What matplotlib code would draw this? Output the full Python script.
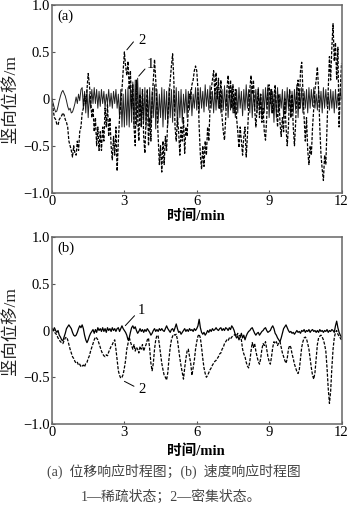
import numpy as np
import matplotlib
matplotlib.use("Agg")
import matplotlib.pyplot as plt

plt.rcParams['font.family'] = ['Liberation Serif', 'Noto Sans CJK SC']
plt.rcParams['axes.unicode_minus'] = True

# time axis, min (0.05 min sampling)
time_min = np.linspace(0, 12, 241)

# (a) displacement, 1 = sparse state, 2 = dense state
disp_a1 = [
    0.0, -0.05, -0.1, -0.14, -0.13, -0.08, -0.02, 0.03, 0.07, 0.09, 0.06, 0.03, -0.02, -0.08, -0.12, -0.1, -0.15, -0.14, -0.1, -0.05,
    0.02, -0.05, 0.05, -0.02, 0.1, 0.12, -0.1, 0.08, -0.15, 0.1, -0.2, 0.05, -0.1, 0.1, -0.05, 0.12, -0.05, 0.1, -0.1, 0.08,
    -0.08, 0.1, -0.05, 0.08, -0.1, 0.05, -0.05, 0.1, -0.08, 0.06, -0.1, 0.08, -0.05, 0.1, -0.1, 0.05, -0.2, 0.1, -0.3, 0.05,
    -0.3, 0.1, -0.28, 0.12, -0.3, 0.15, -0.25, 0.18, -0.3, 0.2, -0.28, 0.22, -0.2, 0.12, -0.3, 0.1, -0.25, 0.12, -0.3, 0.1,
    -0.25, 0.12, -0.3, 0.08, -0.2, 0.15, -0.32, 0.1, -0.25, 0.05, -0.2, 0.12, -0.3, 0.1, -0.22, 0.08, -0.28, 0.12, -0.2, 0.1,
    -0.25, 0.1, -0.15, 0.12, -0.3, 0.08, -0.2, 0.1, -0.25, 0.05, -0.15, 0.1, -0.2, 0.08, -0.12, 0.1, -0.18, 0.05, -0.1, 0.12,
    -0.12, 0.1, -0.15, 0.12, -0.1, 0.08, -0.14, 0.15, -0.08, 0.1, -0.12, 0.14, -0.1, 0.08, -0.15, 0.1, -0.12, 0.12, -0.1, 0.08,
    -0.15, 0.1, -0.12, 0.14, -0.1, 0.08, -0.2, 0.1, -0.12, 0.12, -0.15, 0.05, -0.2, 0.1, -0.15, 0.12, -0.1, 0.08, -0.18, 0.1,
    -0.12, 0.15, -0.1, 0.1, -0.15, 0.12, -0.2, 0.08, -0.12, 0.1, -0.15, 0.12, -0.1, 0.05, -0.2, 0.1, -0.15, 0.12, -0.1, 0.15,
    -0.2, 0.1, -0.15, 0.08, -0.25, 0.1, -0.2, 0.12, -0.15, 0.05, -0.1, 0.1, -0.2, 0.08, -0.15, 0.12, -0.1, 0.1, -0.2, 0.08,
    -0.15, 0.1, -0.12, 0.15, -0.2, 0.1, -0.1, 0.12, -0.15, 0.08, -0.1, 0.1, -0.15, 0.12, -0.1, 0.1, -0.08, 0.12, -0.1, 0.05,
    -0.12, 0.1, -0.1, 0.08, -0.15, 0.12, -0.1, 0.1, -0.08, 0.05, -0.12, 0.1, -0.1, 0.08, -0.15, 0.1, -0.1, 0.05, -0.05, 0.08,
    0.0,
]
disp_a2 = [
    0.0, -0.12, -0.2, -0.22, -0.27, -0.28, -0.22, -0.2, -0.18, -0.15, -0.17, -0.22, -0.25, -0.3, -0.45, -0.5, -0.55, -0.62, -0.5, -0.58,
    -0.6, -0.45, -0.55, -0.35, -0.3, -0.15, -0.1, 0.05, -0.05, 0.1, 0.27, 0.15, 0.0, -0.2, -0.1, -0.35, -0.2, -0.5, -0.3, -0.55,
    -0.35, -0.55, -0.3, -0.45, -0.1, -0.3, -0.05, -0.4, -0.2, -0.5, -0.65, -0.4, -0.6, -0.3, -0.77, -0.45, -0.2, -0.05, 0.1, 0.3,
    0.5, 0.35, 0.25, 0.4, 0.1, 0.3, -0.1, 0.15, -0.3, -0.5, 0.2, -0.2, -0.45, 0.05, -0.3, 0.1, -0.4, -0.58, -0.2, 0.1,
    -0.5, -0.2, -0.45, 0.0, 0.2, 0.42, 0.2, -0.1, -0.4, -0.7, -0.5, -0.78, -0.45, -0.7, -0.4, -0.55, -0.2, 0.0, 0.2, 0.35,
    0.48, 0.2, -0.3, -0.45, -0.2, -0.35, -0.6, -0.3, -0.45, -0.2, -0.58, -0.3, -0.4, -0.1, 0.05, 0.0, 0.15, 0.2, 0.3, 0.35,
    0.3, 0.1, -0.3, -0.6, -0.75, -0.5, -0.72, -0.45, -0.6, -0.3, -0.45, -0.1, 0.1, 0.2, 0.3, 0.05, 0.28, 0.0, 0.22, -0.1,
    0.2, -0.2, -0.35, -0.44, -0.2, 0.1, 0.25, 0.0, 0.2, -0.1, 0.15, -0.15, 0.1, -0.2, -0.35, -0.52, -0.3, -0.45, -0.6, -0.4,
    -0.3, -0.62, -0.4, -0.1, 0.1, 0.25, 0.05, 0.2, -0.1, -0.3, -0.1, 0.1, -0.2, 0.05, -0.25, -0.1, -0.35, -0.44, -0.2, 0.1,
    0.15, -0.05, 0.1, -0.15, 0.0, 0.15, -0.1, -0.3, 0.05, -0.25, -0.4, -0.2, -0.35, 0.0, -0.3, -0.5, -0.3, 0.1, -0.2, 0.05,
    -0.3, -0.5, -0.25, 0.1, 0.2, -0.1, 0.3, 0.39, 0.1, -0.2, -0.45, -0.2, -0.55, -0.7, -0.5, -0.6, -0.3, -0.1, 0.1, 0.2,
    0.34, 0.1, -0.3, -0.6, -0.75, -0.87, -0.6, -0.7, -0.3, 0.1, 0.45, 0.2, 0.55, 0.8, 0.4, 0.6, 0.2, 0.55, -0.3, 0.1,
    0.38,
]

# (b) displacement, 1 = sparse state, 2 = dense state
disp_b1 = [
    0.02, 0.0, 0.03, 0.0, -0.02, 0.0, -0.05, -0.07, -0.1, -0.11, -0.07, -0.03, 0.02, 0.04, 0.06, 0.04, 0.02, -0.02, -0.05, -0.06,
    -0.05, -0.02, 0.02, 0.05, 0.03, 0.06, 0.02, -0.05, -0.1, -0.13, -0.1, -0.06, -0.03, -0.01, 0.01, -0.03, 0.01, -0.02, 0.03, 0.0,
    0.02, -0.01, 0.03, -0.01, 0.02, -0.02, 0.03, 0.0, 0.02, -0.01, 0.03, 0.0, 0.02, -0.01, 0.02, 0.03, -0.01, 0.02, 0.05, 0.02,
    0.0, -0.02, -0.05, -0.1, -0.08, -0.02, 0.03, 0.05, 0.02, 0.04, 0.0, -0.03, -0.01, 0.02, -0.01, 0.01, -0.02, 0.01, -0.01, 0.02,
    0.0, -0.02, -0.05, -0.03, 0.0, 0.02, -0.01, 0.01, -0.01, 0.02, 0.0, 0.02, 0.0, -0.01, 0.02, 0.05, 0.02, 0.0, -0.02, 0.01,
    0.02, -0.01, 0.03, 0.07, 0.02, -0.02, -0.01, -0.04, -0.02, 0.0, 0.02, -0.01, 0.01, -0.01, 0.02, 0.0, 0.01, -0.01, 0.02, 0.0,
    0.02, 0.05, 0.12, 0.03, -0.02, -0.04, -0.02, -0.05, -0.03, 0.0, -0.02, 0.01, -0.01, 0.02, 0.0, 0.01, 0.03, 0.01, 0.0, 0.02,
    0.03, 0.0, 0.02, 0.0, 0.03, 0.02, 0.0, 0.03, 0.01, 0.05, 0.03, 0.0, -0.05, -0.08, -0.06, -0.1, -0.07, -0.03, -0.08, -0.05,
    -0.1, -0.06, -0.03, -0.01, 0.0, 0.02, 0.03, 0.0, -0.03, -0.05, -0.03, -0.02, -0.05, -0.03, -0.01, 0.0, 0.02, 0.03, 0.0, -0.02,
    -0.01, 0.0, 0.03, 0.05, 0.02, -0.03, -0.05, -0.08, -0.1, -0.12, -0.08, -0.03, 0.02, 0.04, 0.06, 0.03, 0.0, -0.02, -0.01, -0.03,
    -0.02, -0.04, -0.02, 0.0, -0.02, -0.01, -0.03, 0.0, -0.01, 0.01, -0.02, 0.0, -0.01, 0.01, -0.02, 0.0, 0.01, -0.01, 0.0, -0.02,
    0.0, -0.02, 0.01, -0.01, 0.0, -0.02, 0.0, -0.01, 0.01, -0.02, 0.0, -0.01, 0.01, 0.0, -0.02, 0.05, 0.1, 0.03, -0.02, -0.05,
    -0.07,
]
disp_b2 = [
    0.02, 0.0, -0.02, -0.03, -0.05, -0.08, -0.1, -0.12, -0.13, -0.14, -0.11, -0.08, -0.07, -0.1, -0.15, -0.2, -0.24, -0.28, -0.3, -0.33,
    -0.35, -0.34, -0.37, -0.36, -0.39, -0.38, -0.37, -0.39, -0.35, -0.34, -0.3, -0.27, -0.22, -0.18, -0.14, -0.1, -0.07, -0.08, -0.1, -0.14,
    -0.18, -0.22, -0.25, -0.27, -0.28, -0.26, -0.27, -0.23, -0.2, -0.17, -0.15, -0.12, -0.1, -0.2, -0.32, -0.43, -0.48, -0.51, -0.5, -0.47,
    -0.4, -0.32, -0.2, -0.14, -0.07, -0.12, -0.16, -0.2, -0.15, -0.22, -0.18, -0.2, -0.24, -0.17, -0.2, -0.15, -0.22, -0.18, -0.15, -0.1,
    -0.08, -0.2, -0.35, -0.43, -0.35, -0.2, -0.1, -0.05, -0.06, -0.15, -0.25, -0.35, -0.42, -0.48, -0.5, -0.53, -0.45, -0.3, -0.18, -0.1,
    -0.06, -0.04, -0.05, -0.04, -0.1, -0.2, -0.3, -0.38, -0.45, -0.52, -0.4, -0.3, -0.22, -0.2, -0.28, -0.35, -0.48, -0.4, -0.32, -0.2,
    -0.12, -0.06, -0.04, -0.08, -0.18, -0.3, -0.4, -0.46, -0.5, -0.48, -0.45, -0.42, -0.4, -0.37, -0.35, -0.33, -0.32, -0.3, -0.28, -0.25,
    -0.24, -0.2, -0.18, -0.14, -0.12, -0.1, -0.11, -0.08, -0.09, -0.07, -0.06, -0.05, -0.04, -0.06, -0.03, -0.05, -0.06, -0.1, -0.2, -0.25,
    -0.28, -0.34, -0.38, -0.4, -0.33, -0.22, -0.13, -0.18, -0.14, -0.22, -0.28, -0.33, -0.36, -0.3, -0.2, -0.14, -0.16, -0.12, -0.2, -0.28,
    -0.33, -0.36, -0.28, -0.18, -0.12, -0.14, -0.12, -0.16, -0.13, -0.12, -0.18, -0.24, -0.28, -0.32, -0.35, -0.3, -0.2, -0.16, -0.18, -0.25,
    -0.3, -0.36, -0.4, -0.44, -0.46, -0.42, -0.3, -0.18, -0.12, -0.08, -0.07, -0.09, -0.14, -0.2, -0.3, -0.4, -0.48, -0.52, -0.45, -0.3,
    -0.15, -0.08, -0.06, -0.05, -0.07, -0.1, -0.15, -0.22, -0.4, -0.62, -0.78, -0.65, -0.4, -0.2, -0.08, -0.02, 0.0, -0.04, -0.06, -0.08,
    -0.1,
]

x_ticks = [0, 3, 6, 9, 12]
y_ticks = [-1.0, -0.5, 0.0, 0.5, 1.0]
y_tick_labels = ['\u22121.0', '\u22120.5', '0', '0.5', '1.0']

fig = plt.figure(figsize=(3.5, 5.11), dpi=100)
W, H = 350, 511


def panel(top_px, bottom_px):
    return fig.add_axes([52 / W, 1 - bottom_px / H, 289.5 / W, (bottom_px - top_px) / H])


def style_axes(ax, tag):
    ax.set_xlim(0, 12)
    ax.set_ylim(-1.0, 1.0)
    ax.set_xticks(x_ticks)
    ax.set_xticklabels([str(v) for v in x_ticks])
    ax.set_yticks(y_ticks)
    ax.set_yticklabels(y_tick_labels)
    ax.tick_params(direction='in', length=2.5, width=0.8, color='#555555',
                   labelsize=10.5, pad=1.5, top=False, right=False)
    for s in ax.spines.values():
        s.set_color('#666666')
        s.set_linewidth(1.1)
    ax.text(0.02, 0.975, tag, transform=ax.transAxes, fontsize=10.5,
            ha='left', va='top')


ax_a = panel(5, 192.7)
ax_a.plot(time_min, disp_a1, color='#222222', lw=0.7)
ax_a.plot(time_min, disp_a2, color='black', lw=0.9, ls=(0, (2.5, 1.2)))
style_axes(ax_a, '(a)')
ax_a.annotate('', xy=(3.03, 0.5), xytext=(3.45, 0.63),
              arrowprops=dict(arrowstyle='-', color='black', lw=0.7))
ax_a.text(3.72, 0.62, '2', fontsize=10.5, ha='center', va='center')
ax_a.annotate('', xy=(3.52, 0.22), xytext=(3.93, 0.34),
              arrowprops=dict(arrowstyle='-', color='black', lw=0.7))
ax_a.text(4.08, 0.37, '1', fontsize=10.5, ha='center', va='center')

ax_b = panel(237, 424)
ax_b.plot(time_min, disp_b1, color='black', lw=0.9)
ax_b.plot(time_min, disp_b2, color='black', lw=0.9, ls=(0, (2.5, 1.2)))
style_axes(ax_b, '(b)')
ax_b.annotate('', xy=(2.96, 0.03), xytext=(3.5, 0.18),
              arrowprops=dict(arrowstyle='-', color='black', lw=0.7))
ax_b.text(3.72, 0.21, '1', fontsize=10.5, ha='center', va='center')
ax_b.annotate('', xy=(2.9, -0.53), xytext=(3.5, -0.61),
              arrowprops=dict(arrowstyle='-', color='black', lw=0.7))
ax_b.text(3.72, -0.63, '2', fontsize=10.5, ha='center', va='center')

# axis titles
for yc in (99, 331):
    fig.text(11 / W, 1 - yc / H, '竖向位移/m', rotation=90, fontsize=12.5,
             ha='center', va='center', color='#222222')
for yc in (216, 451):
    fig.text(196 / W, 1 - yc / H, '时间/min', fontsize=10.5, fontweight='bold',
             ha='center', va='center')

# caption
fig.text(174 / W, 1 - 471 / H, '(a)  位移响应时程图；(b)  速度响应时程图',
         fontsize=10, ha='center', va='center', color='#444444')
fig.text(171 / W, 1 - 497 / H, '1—稀疏状态；2—密集状态。',
         fontsize=10, ha='center', va='center', color='#444444')

fig.savefig('out.png', dpi=100)
